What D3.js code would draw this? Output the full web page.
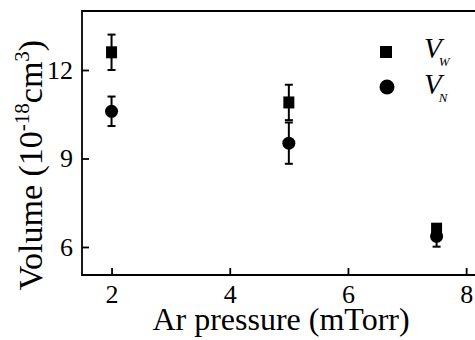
<!DOCTYPE html>
<html>
<head>
<meta charset="utf-8">
<script src="https://cdn.jsdelivr.net/npm/d3@7"></script>
<style>
  body { margin: 0; background: #fff; }
  svg { display: block; font-family: 'Liberation Serif', 'Times New Roman', serif; }
</style>
</head>
<body>
<div id="chart"></div>
<script>
// Ar pressure (mTorr)
const pressure = [2, 5, 7.5];
// V_W volumes (10^-18 cm^3) and errors
const volW = [12.6, 10.9, 6.62];
const errW = [0.6, 0.6, 0.12];
// V_N volumes and errors
const volN = [10.6, 9.52, 6.36];
const errN = [0.5, 0.7, 0.35];
const xTicks = [2, 4, 6, 8];
const yTicks = [6, 9, 12];

const width = 475, height = 340;
const svg = d3.select('#chart').append('svg')
  .attr('width', width).attr('height', height);

const x = d3.scaleLinear().domain([1.5, 8.15]).range([82, 475]);
const y = d3.scaleLinear().domain([5.05, 14]).range([275, 11]);

// frame: left, bottom and top lines
svg.append('path')
  .attr('d', 'M' + x.range()[1] + ',' + y.range()[1] + 'H' + x.range()[0] +
    'V' + y.range()[0] + 'H' + x.range()[1])
  .attr('fill', 'none').attr('stroke', '#000').attr('stroke-width', 1.8);

const xAxis = svg.append('g')
  .attr('transform', 'translate(0,' + y.range()[0] + ')')
  .call(d3.axisBottom(x).tickValues(xTicks).tickFormat(d3.format('d'))
    .tickSize(-7).tickPadding(10));
const yAxis = svg.append('g')
  .attr('transform', 'translate(' + x.range()[0] + ',0)')
  .call(d3.axisLeft(y).tickValues(yTicks).tickFormat(d3.format('d'))
    .tickSize(-7).tickPadding(9));
[xAxis, yAxis].forEach(function (g) {
  g.select('.domain').remove();
  g.selectAll('line').attr('stroke', '#000').attr('stroke-width', 1.8);
  g.selectAll('text').attr('fill', '#000')
    .style('font-family', "'Liberation Serif', serif").style('font-size', '26px');
});

function drawSeries(vals, errs, shape) {
  const g = svg.append('g');
  const pts = pressure.map(function (p, i) { return { p: p, v: vals[i], e: errs[i] }; });
  const eb = g.selectAll('.eb').data(pts).enter().append('g');
  eb.append('line')
    .attr('x1', function (d) { return x(d.p); }).attr('x2', function (d) { return x(d.p); })
    .attr('y1', function (d) { return y(d.v + d.e); }).attr('y2', function (d) { return y(d.v - d.e); })
    .attr('stroke', '#000').attr('stroke-width', 2);
  [1, -1].forEach(function (s) {
    eb.append('line')
      .attr('x1', function (d) { return x(d.p) - 4; }).attr('x2', function (d) { return x(d.p) + 4; })
      .attr('y1', function (d) { return y(d.v + s * d.e); }).attr('y2', function (d) { return y(d.v + s * d.e); })
      .attr('stroke', '#000').attr('stroke-width', 2);
  });
  if (shape === 'square') {
    g.selectAll('.m').data(pts).enter().append('rect')
      .attr('x', function (d) { return x(d.p) - 5.5; })
      .attr('y', function (d) { return y(d.v) - 6; })
      .attr('width', 11).attr('height', 12).attr('fill', '#000');
  } else {
    g.selectAll('.m').data(pts).enter().append('circle')
      .attr('cx', function (d) { return x(d.p); })
      .attr('cy', function (d) { return y(d.v); })
      .attr('r', 6.5).attr('fill', '#000');
  }
}
drawSeries(volW, errW, 'square');
drawSeries(volN, errN, 'circle');

// legend
svg.append('rect').attr('x', 380).attr('y', 46).attr('width', 12).attr('height', 12).attr('fill', '#000');
svg.append('circle').attr('cx', 387).attr('cy', 87).attr('r', 7.5).attr('fill', '#000');
const legend = [{ sub: 'W', y: 58 }, { sub: 'N', y: 94 }];
legend.forEach(function (l) {
  const t = svg.append('text').attr('x', 424).attr('y', l.y)
    .style('font-style', 'italic').style('font-size', '29px');
  t.append('tspan').text('V');
  t.append('tspan').attr('dx', -3).attr('dy', 8).style('font-size', '13px').text(l.sub);
});

// axis titles
svg.append('text').attr('x', 281).attr('y', 330).attr('text-anchor', 'middle')
  .style('font-size', '32px').text('Ar pressure (mTorr)');

const yl = svg.append('text').attr('transform', 'translate(42,165) rotate(-90)')
  .attr('text-anchor', 'middle').style('font-size', '34px');
yl.append('tspan').text('Volume (10');
yl.append('tspan').attr('dy', -13).style('font-size', '21px').text('-18');
yl.append('tspan').attr('dy', 13).text('cm');
yl.append('tspan').attr('dy', -13).style('font-size', '21px').text('3');
yl.append('tspan').attr('dy', 13).text(')');
</script>
</body>
</html>
